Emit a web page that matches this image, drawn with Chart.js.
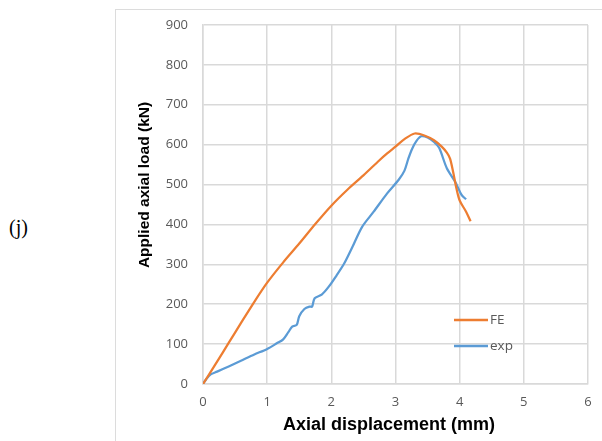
<!DOCTYPE html>
<html>
<head>
<meta charset="utf-8">
<script src="https://cdn.jsdelivr.net/npm/chart.js@4"></script>
<style>
    body { margin: 0; background: #fff; }
    #wrap { position: relative; width: 602px; height: 441px; overflow: hidden; }
    #frame { position: absolute; left: 115px; top: 9px; width: 600px; height: 500px;
             border-left: 1.5px solid #dcdcdc; border-top: 1.5px solid #dcdcdc; }
    #tag { position: absolute; left: 9px; top: 216px; font: 20px "Liberation Serif", serif; color: #000; }
    canvas { position: absolute; left: 0; top: 0; }
</style>
</head>
<body>
<div id="wrap">
    <div id="frame"></div>
    <div id="tag">(j)</div>
    <canvas id="chart" width="602" height="441"></canvas>
</div>
<script>
// FE curve
let feX = [0, 0.2, 0.4, 0.6, 0.8, 1.0, 1.25, 1.5, 1.75, 2.0, 2.25, 2.5, 2.75, 2.87, 3.0, 3.15, 3.3, 3.45, 3.6, 3.72, 3.8, 3.85, 3.9, 3.95, 4.0, 4.1, 4.17];
let feY = [0, 51, 103, 155, 206, 254, 305, 352, 401, 447, 487, 523, 561, 578, 595, 615, 628, 623, 611, 595, 580, 565, 530, 490, 460, 432, 408];

// experiment
let expX = [0, 0.05, 0.12, 0.22, 0.4, 0.6, 0.8, 1.0, 1.15, 1.25, 1.33, 1.39, 1.46, 1.5, 1.58, 1.66, 1.7, 1.74, 1.85, 1.96, 2.08, 2.2, 2.33, 2.48, 2.66, 2.87, 3.05, 3.14, 3.2, 3.26, 3.33, 3.4, 3.5, 3.6, 3.68, 3.8, 3.93, 4.03, 4.1];
let expY = [0, 12, 24, 31, 44, 59, 74, 88, 102, 112, 130, 144, 148, 170, 188, 194, 194, 215, 224, 244, 272, 302, 344, 394, 432, 478, 512, 535, 565, 590, 610, 621, 618, 607, 592, 541, 507, 474, 463];

let seriesNames = ["FE", "exp"];
let seriesColors = ["#ed7d31", "#5b9bd5"];
let xTicks = [0, 1, 2, 3, 4, 5, 6];
let yTicks = [0, 100, 200, 300, 400, 500, 600, 700, 800, 900];

function pts(xs, ys) {
    return xs.map((x, i) => ({ x: x, y: ys[i] }));
}

let gray = "#d9d9d9";
let tickFont = { family: "'Open Sans', sans-serif", size: 13 };

// axis titles + legend drawn by hand, Excel style
let extras = {
    id: "extras",
    afterDraw(chart) {
        let ctx = chart.ctx;
        ctx.save();
        ctx.fillStyle = "#000";
        ctx.textAlign = "center";
        ctx.textBaseline = "middle";
        ctx.font = "bold 18px 'Liberation Sans', Arial, sans-serif";
        ctx.fillText("Axial displacement (mm)", 389, 425);
        ctx.translate(145, 185);
        ctx.rotate(-Math.PI / 2);
        ctx.font = "bold 15.5px 'Liberation Sans', Arial, sans-serif";
        ctx.fillText("Applied axial load (kN)", 0, 0);
        ctx.restore();

        // legend
        ctx.save();
        ctx.font = "13.5px 'Open Sans', sans-serif";
        ctx.textBaseline = "middle";
        ctx.fillStyle = "#595959";
        seriesNames.forEach((n, i) => {
            let y = 320 + i * 26;
            ctx.strokeStyle = seriesColors[i];
            ctx.lineWidth = 2.5;
            ctx.beginPath();
            ctx.moveTo(454, y);
            ctx.lineTo(488, y);
            ctx.stroke();
            ctx.fillText(n, 490, y);
        });
        ctx.restore();
    }
};

new Chart(document.getElementById("chart").getContext("2d"), {
    type: "scatter",
    data: {
        datasets: [
            { label: seriesNames[0], data: pts(feX, feY), borderColor: seriesColors[0] },
            { label: seriesNames[1], data: pts(expX, expY), borderColor: seriesColors[1] }
        ]
    },
    options: {
        responsive: false,
        animation: false,
        devicePixelRatio: 1,
        showLine: true,
        layout: { padding: { top: 25, right: 14, bottom: 0, left: 0 } },
        elements: {
            point: { radius: 0 },
            line: { borderWidth: 2.25, tension: 0.3, fill: false }
        },
        plugins: {
            legend: { display: false },
            tooltip: { enabled: false }
        },
        scales: {
            x: {
                type: "linear",
                min: 0, max: 6,
                afterBuildTicks: s => { s.ticks = xTicks.map(v => ({ value: v })); },
                afterFit: s => { s.height = 57; },
                grid: { color: gray, lineWidth: 1.5, drawTicks: false },
                border: { color: gray, width: 1.5 },
                ticks: { font: tickFont, color: "#595959", padding: 10, maxRotation: 0 }
            },
            y: {
                type: "linear",
                min: 0, max: 900,
                afterBuildTicks: s => { s.ticks = yTicks.map(v => ({ value: v })); },
                afterFit: s => { s.width = 203; },
                grid: { color: gray, lineWidth: 1.5, drawTicks: false },
                border: { color: gray, width: 1.5 },
                ticks: { font: tickFont, color: "#595959", padding: 15 }
            }
        }
    },
    plugins: [extras]
});
</script>
</body>
</html>
